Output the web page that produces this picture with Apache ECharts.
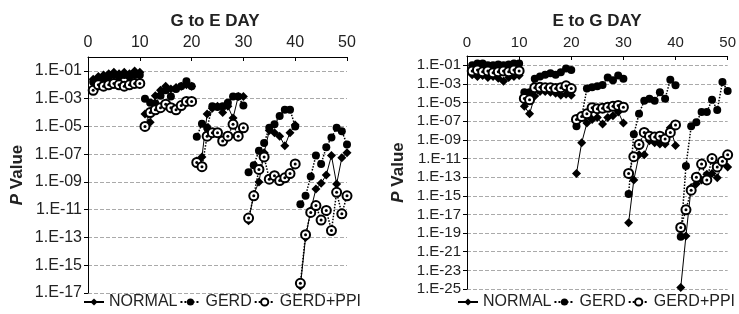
<!DOCTYPE html>
<html>
<head>
<meta charset="utf-8">
<script src="https://cdn.jsdelivr.net/npm/echarts@6/dist/echarts.min.js"></script>
<style>
  html, body { margin: 0; padding: 0; background: #fff; }
  #chart { width: 739px; height: 314px; }
</style>
</head>
<body>
<div id="chart"></div>
<script>
// days 1..50, five blocks of ten days (lines break between blocks)
const days = [
  1, 2, 3, 4, 5, 6, 7, 8, 9, 10,
  11, 12, 13, 14, 15, 16, 17, 18, 19, 20,
  21, 22, 23, 24, 25, 26, 27, 28, 29, 30,
  31, 32, 33, 34, 35, 36, 37, 38, 39, 40,
  41, 42, 43, 44, 45, 46, 47, 48, 49, 50
]
const seriesNames = ['NORMAL', 'GERD', 'GERD+PPI']

// G to E DAY, log10(P)
const geNormal = [
  -1.6, -1.4, -1.3, -1.2, -1.1, -1.2, -1.1, -1.2, -1.0, -1.1,
  -4.1, -4.7, -2.8, -2.4, -2.1, -2.3, -2.2, -2.1, -2.0, -2.1,
  -7.5, -7.2, -4.1, -3.7, -3.55, -4.0, -3.55, -4.4, -2.85, -2.85,
  -11.8, -9.9, -9.0, -6.9, -5.3, -5.45, -5.7, -6.4, -5.45, -4.9,
  -16.5, -13.0, -11.05, -9.5, -9.1, -8.5, -7.1, -9.15, -7.25, -6.9
]
const geGerd = [
  -1.8, -1.6, -1.5, -1.4, -1.3, -1.4, -1.3, -1.4, -1.3, -1.3,
  -3.0, -3.3, -3.35, -2.8, -2.4, -2.85, -2.3, -2.1, -1.75, -2.1,
  -5.75, -4.8, -5.1, -3.55, -3.6, -3.55, -3.3, -2.85, -2.85, -3.5,
  -8.3, -7.8, -6.75, -6.2, -5.1, -4.85, -4.25, -3.8, -3.8, -5.0,
  -10.6, -10.0, -8.6, -7.1, -7.7, -6.5, -5.8, -5.1, -5.35, -6.3
]
const gePpi = [
  -2.4, -2.0, -2.1, -2.0, -1.9, -2.0, -2.1, -2.0, -1.9, -1.9,
  -5.0, -4.0, -3.8, -3.65, -3.4, -3.65, -3.8, -3.5, -3.2, -3.2,
  -7.6, -7.9, -5.7, -5.45, -5.45, -6.05, -5.7, -4.85, -5.7, -5.1,
  -11.6, -10.0, -8.1, -7.2, -8.8, -8.55, -8.9, -8.7, -8.4, -7.7,
  -16.3, -12.8, -11.2, -10.7, -11.75, -11.05, -12.5, -9.75, -11.3, -10.0
]

// E to G DAY, log10(P)
const egNormal = [
  -2.0, -2.2, -2.1, -2.3, -2.2, -2.4, -2.7, -2.3, -2.2, -2.1,
  -5.4, -6.2, -4.3, -3.8, -3.8, -3.9, -4.0, -4.2, -4.1, -4.2,
  -12.6, -9.3, -7.2, -6.8, -6.6, -7.3, -6.6, -6.4, -6.0, -7.2,
  -17.9, -13.3, -10.6, -10.6, -9.1, -9.3, -9.45, -9.45, -7.7, -9.6,
  -24.85, -19.3, -14.1, -13.7, -13.3, -12.7, -12.6, -13.05, -11.5, -11.9
]
const egGerd = [
  -1.0, -0.8, -0.8, -1.0, -1.0, -0.9, -1.0, -0.9, -0.8, -0.8,
  -3.9, -3.9, -2.45, -2.2, -2.0, -1.85, -2.0, -1.75, -1.35, -1.5,
  -7.55, -6.5, -3.5, -3.35, -3.25, -3.1, -2.3, -2.6, -2.1, -2.45,
  -14.8, -8.4, -6.2, -4.8, -4.6, -4.8, -3.9, -4.6, -2.55, -3.15,
  -19.4, -11.8, -7.55, -7.1, -6.0, -6.0, -4.7, -5.8, -2.8, -3.75
]
const egPpi = [
  -1.6, -1.5, -1.7, -1.6, -1.8, -1.7, -1.6, -1.7, -1.5, -1.6,
  -4.55, -4.7, -3.4, -3.35, -3.4, -3.4, -3.5, -3.4, -3.2, -3.5,
  -6.8, -6.5, -6.2, -5.55, -5.65, -5.6, -5.5, -5.4, -5.3, -5.5,
  -12.6, -10.8, -9.5, -8.2, -8.6, -8.7, -8.6, -8.9, -8.2, -7.4,
  -18.4, -16.5, -14.4, -13.0, -11.6, -13.3, -11.0, -11.9, -11.3, -10.6
]

const FONT = 'Liberation Sans, Arial, sans-serif'
const INK = '#222'

// axis value = log10(P) + 1, so 1.E-01 sits on 0 and ticks fall on even steps
const toData = vals => {
  const out = []
  vals.forEach((v, i) => {
    if (i > 0 && i % 10 === 0) out.push([days[i] - 0.5, '-'])
    out.push([days[i], v + 1])
  })
  return out
}
const expLabel = v => {
  const e = 1 - v
  return '1.E-' + (e < 10 ? '0' : '') + e
}

const makeSeries = (idx, normal, gerd, ppi, size) => [
  {
    name: seriesNames[0], type: 'line', xAxisIndex: idx, yAxisIndex: idx,
    data: toData(normal), symbol: 'diamond', symbolSize: size + 1,
    itemStyle: { color: '#000' }, lineStyle: { color: '#000', width: 1 },
  },
  {
    name: seriesNames[1], type: 'line', xAxisIndex: idx, yAxisIndex: idx,
    data: toData(gerd), symbol: 'circle', symbolSize: size,
    itemStyle: { color: '#000' }, lineStyle: { color: '#000', width: 1.5, type: 'dotted' },
  },
  {
    name: seriesNames[2], type: 'line', xAxisIndex: idx, yAxisIndex: idx,
    data: toData(ppi), symbol: 'emptyCircle', symbolSize: size + 1,
    itemStyle: { color: '#000', borderWidth: 0.8 }, lineStyle: { color: '#000', width: 1.5, type: 'dotted' },
  },
  {
    // centre dot of the GERD+PPI markers
    name: 'ppiDot', type: 'line', xAxisIndex: idx, yAxisIndex: idx, silent: true,
    data: toData(ppi), symbol: 'circle', symbolSize: 3,
    itemStyle: { color: '#000' }, lineStyle: { width: 0, opacity: 0 },
  },
]

const xAxisOf = (gridIndex, fs) => ({
  gridIndex, type: 'value', position: 'top', min: 0, max: 50, interval: 10,
  axisLine: { onZero: false, lineStyle: { color: '#000', width: 1 } },
  axisTick: { inside: true, length: 4, lineStyle: { color: '#000' } },
  axisLabel: { fontSize: fs, color: INK, fontFamily: FONT, margin: 6 },
  splitLine: { show: false },
})
const yAxisOf = (gridIndex, min, fs, gap) => ({
  gridIndex, type: 'value', min, max: 1, interval: 2,
  axisLine: { show: true, onZero: false, lineStyle: { color: '#000', width: 1 } },
  axisTick: { show: true, length: 4, lineStyle: { color: '#000' } },
  axisLabel: { fontSize: fs, color: INK, fontFamily: FONT, margin: 6, showMaxLabel: false, formatter: expLabel },
  splitLine: { show: true, lineStyle: { color: '#aaa', type: 'dashed', width: 1 } },
  name: '{p|P} Value', nameLocation: 'middle', nameRotate: 90, nameGap: gap,
  nameTextStyle: {
    fontSize: 17, fontWeight: 'bold', color: INK, fontFamily: FONT,
    rich: { p: { fontSize: 17, fontWeight: 'bold', fontStyle: 'italic', color: INK, fontFamily: FONT } },
  },
})
const legendOf = left => ({
  left, top: 294, width: 300, padding: 0,
  data: seriesNames, itemWidth: 20, itemHeight: 9, itemGap: 2,
  textStyle: { fontSize: 16, color: INK, fontFamily: FONT },
})

const chart = echarts.init(document.getElementById('chart'))
chart.setOption({
  animation: false,
  backgroundColor: '#fff',
  title: [
    { text: 'G to E DAY', left: 215, top: 13, textAlign: 'center', padding: 0,
      textStyle: { fontSize: 17, fontWeight: 'bold', color: INK, fontFamily: FONT } },
    { text: 'E to G DAY', left: 597, top: 13, textAlign: 'center', padding: 0,
      textStyle: { fontSize: 17, fontWeight: 'bold', color: INK, fontFamily: FONT } },
  ],
  legend: [legendOf(83), legendOf(457)],
  grid: [
    { left: 88, top: 57, width: 259, height: 236 },
    { left: 467, top: 56, width: 266, height: 233 },
  ],
  xAxis: [xAxisOf(0, 16), xAxisOf(1, 15)],
  yAxis: [yAxisOf(0, -16, 16, 62), yAxisOf(1, -24, 15, 60)],
  series: [
    ...makeSeries(0, geNormal, geGerd, gePpi, 8),
    ...makeSeries(1, egNormal, egGerd, egPpi, 8),
  ],
})
</script>
</body>
</html>
